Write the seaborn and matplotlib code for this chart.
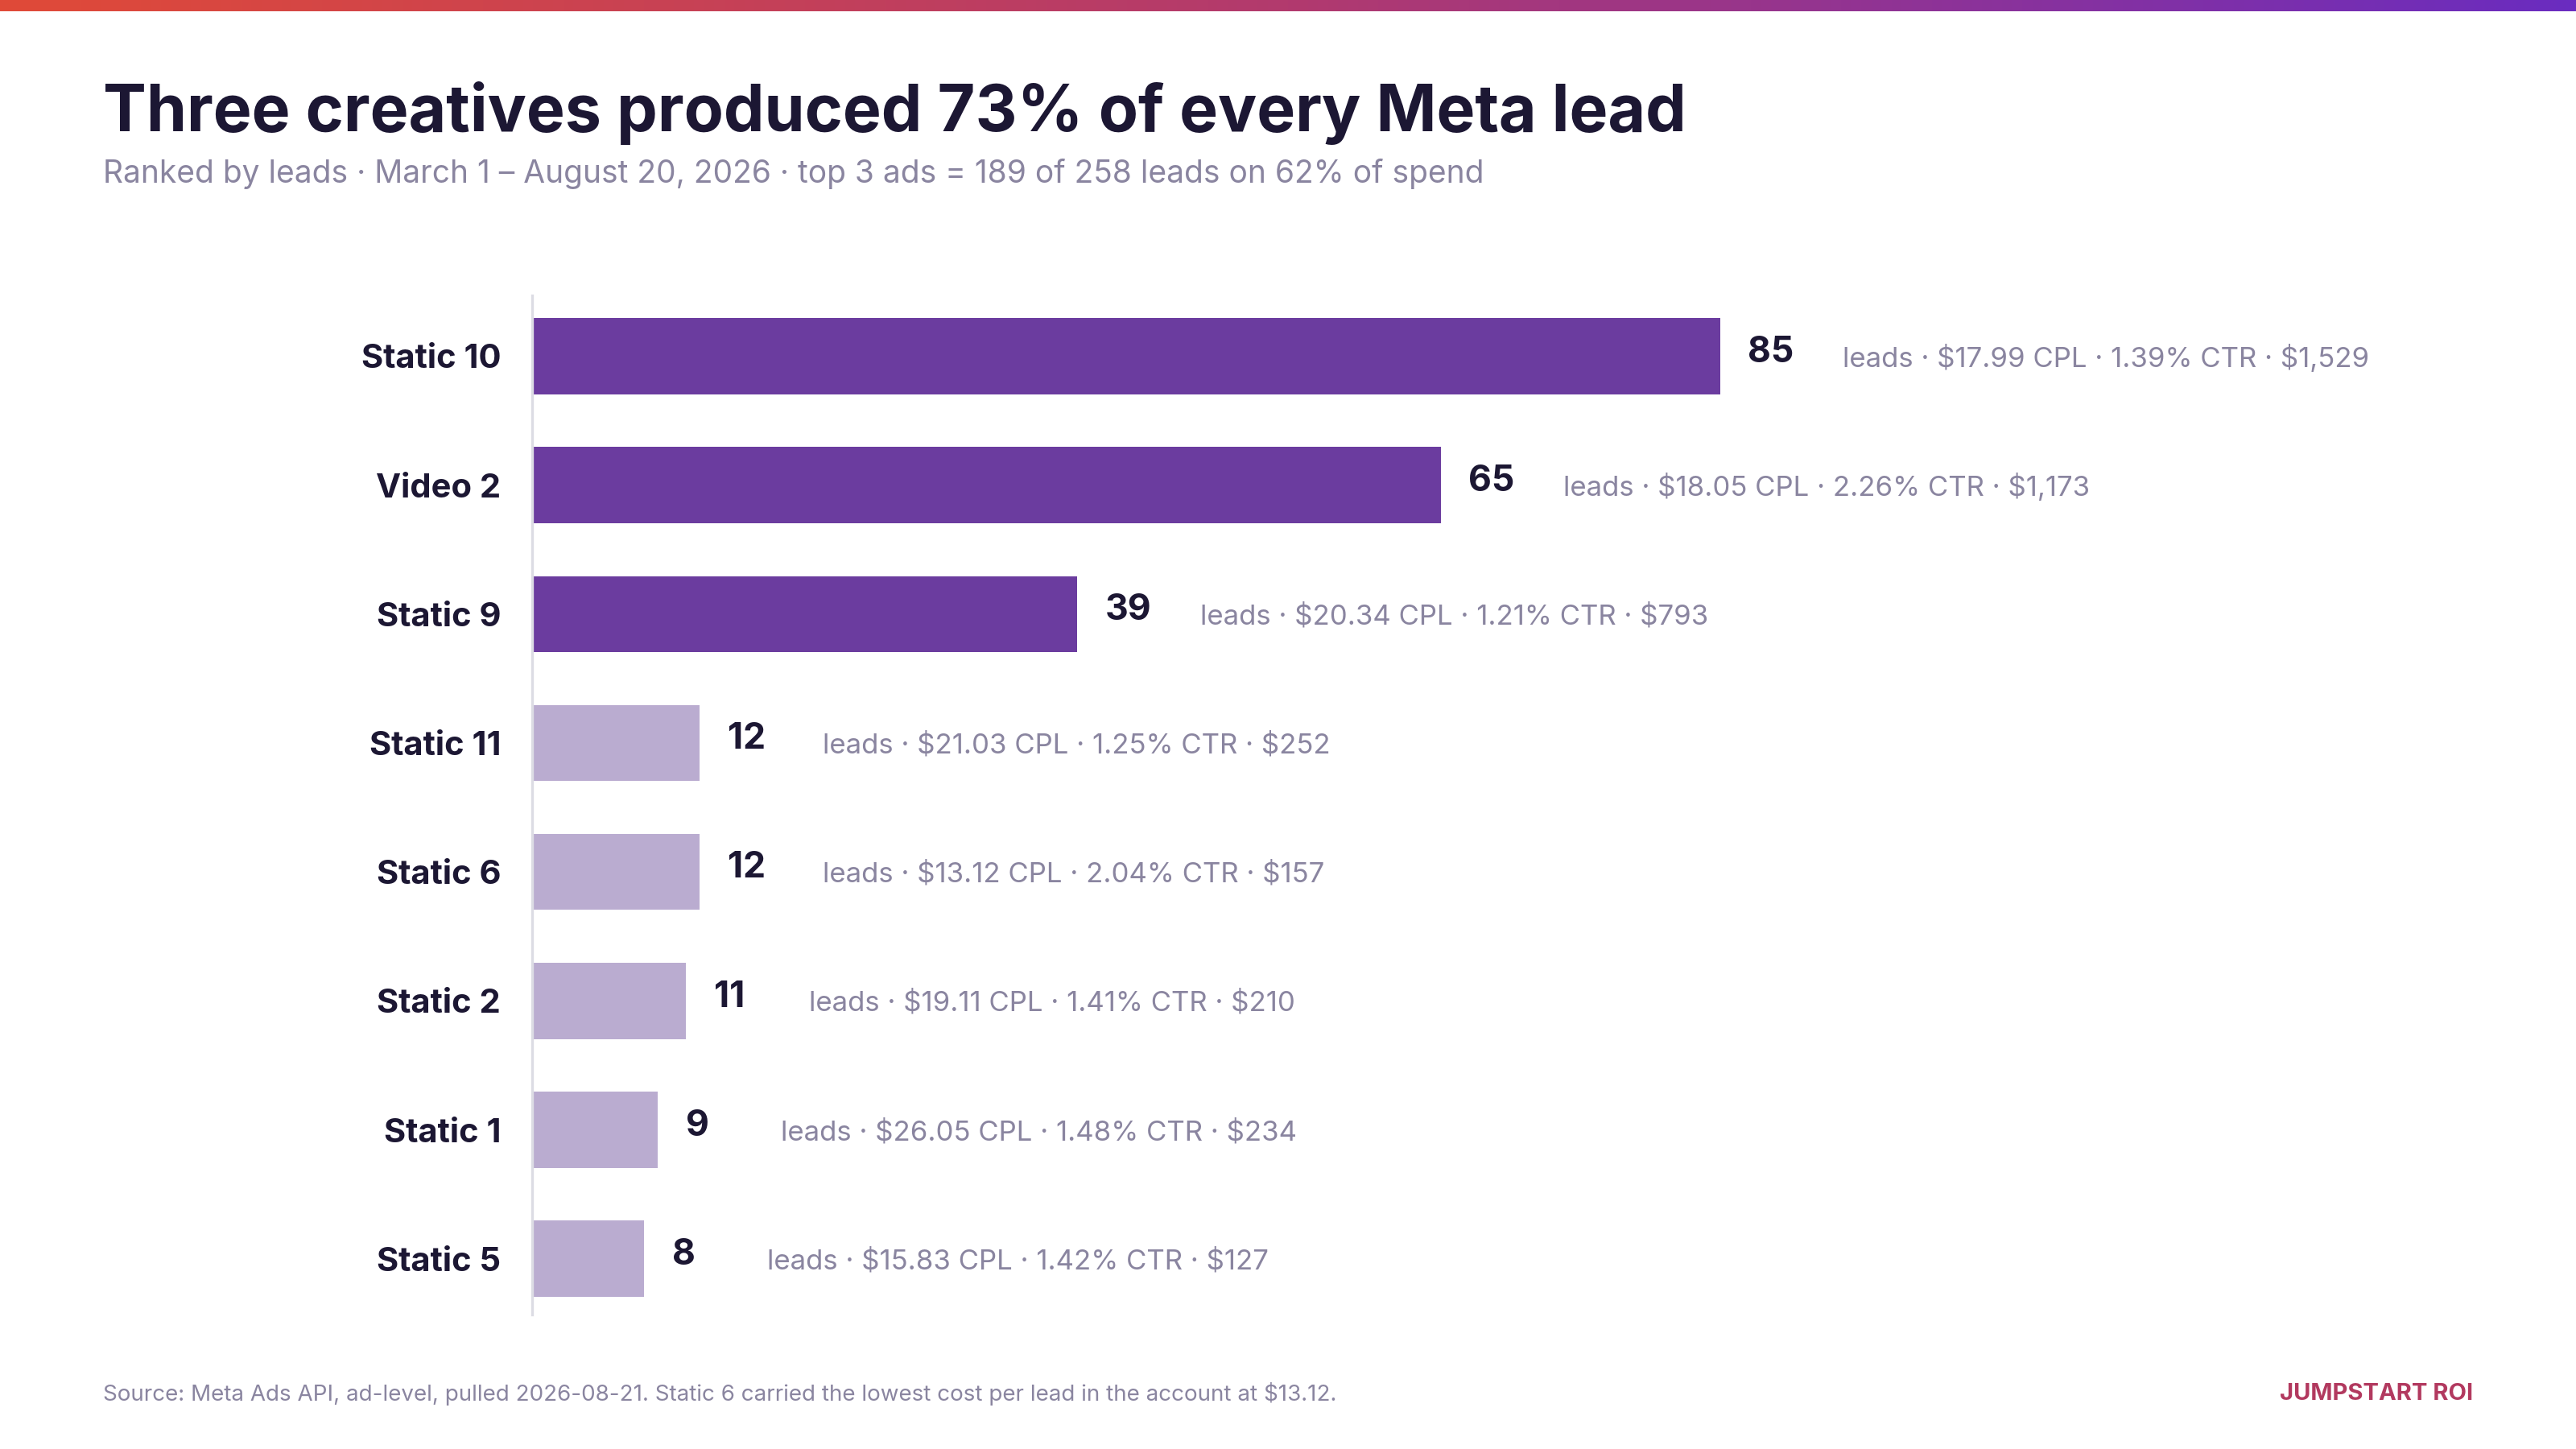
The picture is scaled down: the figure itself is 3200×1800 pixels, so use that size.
import matplotlib
matplotlib.use("Agg")
import matplotlib.pyplot as plt
import numpy as np
import pandas as pd
import seaborn as sns
from matplotlib.colors import LinearSegmentedColormap

# Data
ads = ["Static 10", "Video 2", "Static 9", "Static 11", "Static 6", "Static 2", "Static 1", "Static 5"]
leads = [85, 65, 39, 12, 12, 11, 9, 8]
cpl = ["$17.99", "$18.05", "$20.34", "$21.03", "$13.12", "$19.11", "$26.05", "$15.83"]
ctr = ["1.39%", "2.26%", "1.21%", "1.25%", "2.04%", "1.41%", "1.48%", "1.42%"]
spend = ["$1,529", "$1,173", "$793", "$252", "$157", "$210", "$234", "$127"]
top_n = 3

DARK = "#1c1733"
GREY = "#8a85a0"
PURPLE = "#6a2caf"
LIGHT = "#b9a6d6"

sns.set_theme(style="white")
plt.rcParams["font.family"] = ["Inter", "DejaVu Sans"]
plt.rcParams["text.parse_math"] = False

df = pd.DataFrame({"ad": ads, "leads": leads})
colors = [PURPLE if i < top_n else LIGHT for i in range(len(ads))]

fig = plt.figure(figsize=(16, 9), dpi=200)

# gradient strip at top
gax = fig.add_axes([0, 0.992, 1, 0.008])
cmap = LinearSegmentedColormap.from_list("brand", ["#e04a38", "#b23a6e", "#6a2cc0"])
gax.imshow(np.linspace(0, 1, 256)[None, :], aspect="auto", cmap=cmap)
gax.axis("off")

ax = fig.add_axes([0.2066, 0.093, 0.651, 0.703])
sns.barplot(data=df, x="leads", y="ad", hue="ad", palette=colors, legend=False,
            orient="h", width=0.59, ax=ax)
ax.set_xlim(0, 120)
ax.set_ylim(7.43, -0.47)
ax.set_xlabel("")
ax.set_ylabel("")
ax.set_xticks([])
ax.tick_params(axis="y", length=0, pad=14)
for lbl in ax.get_yticklabels():
    lbl.set_fontsize(15)
    lbl.set_fontweight("bold")
    lbl.set_color(DARK)
for s in ["top", "right", "bottom"]:
    ax.spines[s].set_visible(False)
ax.spines["left"].set_color("#dcdce4")
ax.spines["left"].set_linewidth(1.2)

for p in ax.patches:
    p.set_linewidth(0)

for i, v in enumerate(leads):
    ax.text(v + 2.0, i - 0.03, str(v), va="center", ha="left", fontsize=16,
            fontweight="bold", color=DARK, clip_on=False)
    ax.text(v + 8.8, i + 0.02, f"leads · {cpl[i]} CPL · {ctr[i]} CTR · {spend[i]}",
            va="center", ha="left", fontsize=12.5, color=GREY, clip_on=False)

fig.text(0.04, 0.922, "Three creatives produced 73% of every Meta lead",
         fontsize=29, fontweight="bold", color=DARK, va="center")
fig.text(0.04, 0.880,
         "Ranked by leads · March 1 – August 20, 2026 · top 3 ads = 189 of 258 leads on 62% of spend",
         fontsize=14, color=GREY, va="center")
fig.text(0.04, 0.038,
         "Source: Meta Ads API, ad-level, pulled 2026-08-21. Static 6 carried the lowest cost per lead in the account at $13.12.",
         fontsize=10, color=GREY, va="center")
fig.text(0.96, 0.038, "JUMPSTART ROI", fontsize=10.5, fontweight="bold",
         color="#b2395f", ha="right", va="center")

fig.savefig("out.png", dpi=200, facecolor="white")
